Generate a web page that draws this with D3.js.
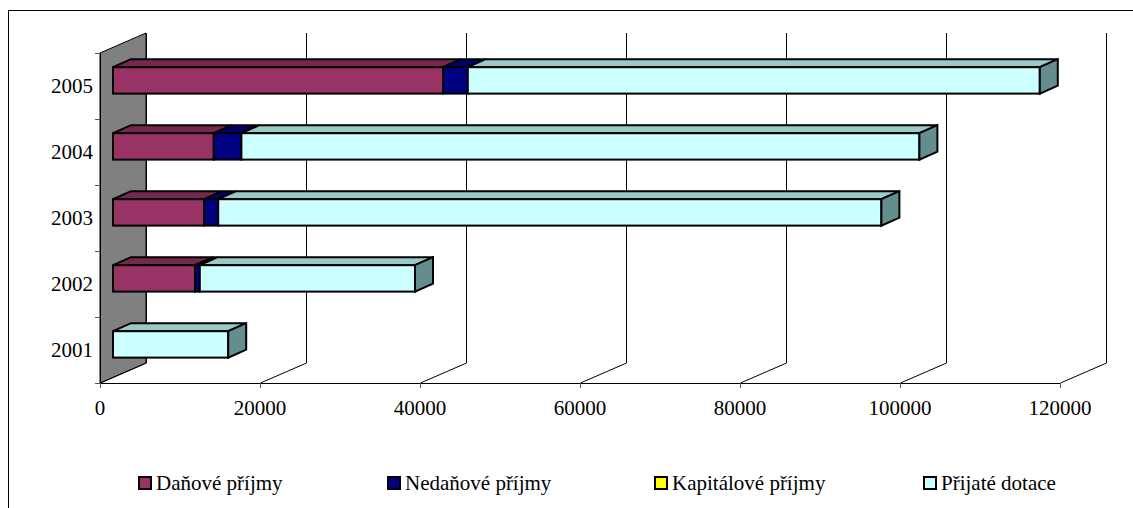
<!DOCTYPE html>
<html>
<head>
<meta charset="utf-8">
<script src="https://cdn.jsdelivr.net/npm/d3@7"></script>
<style>
  html, body { margin: 0; padding: 0; background: #fff; }
  svg { display: block; }
</style>
</head>
<body>
<svg id="chart" width="1133" height="508" font-family="'Liberation Serif', 'Times New Roman', 'DejaVu Serif', serif"></svg>
<script>
// Příjmy obce podle druhu (tis. Kč)
const years = ["2001", "2002", "2003", "2004", "2005"];
const seriesNames = ["Daňové příjmy", "Nedaňové příjmy", "Kapitálové příjmy", "Přijaté dotace"];
const danove     = [0, 10250, 11400, 12600, 41250];
const nedanove   = [0, 600, 1750, 3450, 3100];
const kapitalove = [0, 0, 0, 0, 0];
const dotace     = [14400, 26900, 82900, 84750, 71500];
const xTicks = [0, 20000, 40000, 60000, 80000, 100000, 120000];

const fronts = ["#993366", "#000080", "#FFFF00", "#CCFFFF"];
const tops   = ["#772850", "#000066", "#CCCC00", "#99C9C9"];
const sides  = ["#662244", "#000055", "#999900", "#648E8E"];

const svg = d3.select("#chart");

// Plot geometry: front plane and depth vector of the 3D box
const x = d3.scaleLinear().domain([0, 120000]).range([100, 1060]);
const y = d3.scaleBand().domain(years.slice().reverse()).range([53, 383])
  .paddingInner(0.6).paddingOuter(0.3);
const depth = { dx: 46, dy: -20 };
const barFront = { dx: 13, dy: -5.6 };   // bar front face offset in depth
const barDepth = { dx: 18, dy: -8 };     // bar thickness in depth
const floorY = 383, topY = 53;

// Outer frame
svg.append("rect").attr("x", 8.5).attr("y", 10.5).attr("width", 1200).attr("height", 600)
  .attr("fill", "none").attr("stroke", "#000").attr("stroke-width", 1);

// Side wall
const x0 = x(0);
svg.append("path")
  .attr("d", `M${x0},${floorY} L${x0 + depth.dx},${floorY + depth.dy} L${x0 + depth.dx},${topY + depth.dy} L${x0},${topY} Z`)
  .attr("fill", "#808080").attr("stroke", "#000").attr("stroke-width", 1);

// Gridlines on back wall and floor
const grid = svg.append("g").attr("stroke", "#000").attr("stroke-width", 1).attr("fill", "none");
xTicks.forEach(v => {
  const px = Math.round(x(v)) + 0.5;
  grid.append("path").attr("d",
    `M${px},${floorY} L${px + depth.dx},${floorY + depth.dy} L${px + depth.dx},${topY + depth.dy}`);
});

// Axis lines and ticks
svg.append("line").attr("x1", x0).attr("x2", x(120000)).attr("y1", floorY + 0.5).attr("y2", floorY + 0.5)
  .attr("stroke", "#000");
svg.append("line").attr("x1", x0 + 0.5).attr("x2", x0 + 0.5).attr("y1", topY).attr("y2", floorY)
  .attr("stroke", "#000");
xTicks.forEach(v => {
  svg.append("line").attr("x1", Math.round(x(v)) + 0.5).attr("x2", Math.round(x(v)) + 0.5)
    .attr("y1", floorY).attr("y2", floorY + 5).attr("stroke", "#555");
});
const yTickPos = [topY].concat(years.map((yr, i) => topY + (i + 1) * y.step()));
yTickPos.forEach(p => {
  svg.append("line").attr("x1", x0 - 5).attr("x2", x0).attr("y1", Math.round(p) + 0.5).attr("y2", Math.round(p) + 0.5)
    .attr("stroke", "#555");
});

// Tick labels
svg.append("g").selectAll("text").data(xTicks).join("text")
  .attr("x", d => x(d)).attr("y", 415).attr("text-anchor", "middle")
  .attr("font-size", 21).text(d => d);
svg.append("g").selectAll("text").data(years).join("text")
  .attr("x", 93).attr("y", d => y(d) + y.bandwidth() / 2 + 7).attr("text-anchor", "end")
  .attr("font-size", 21).text(d => d);

// Stacked 3D bars
const values = [danove, nedanove, kapitalove, dotace];
const barsG = svg.append("g").attr("stroke", "#000").attr("stroke-width", 2).attr("stroke-linejoin", "miter");
years.forEach((yr, i) => {
  const segs = [];
  let acc = 0;
  values.forEach((arr, s) => {
    const v = arr[i];
    if (v > 0) segs.push({ s, a: acc, b: acc + v });
    acc += v;
  });
  const fy0 = y(yr) + barFront.dy, fy1 = fy0 + y.bandwidth();
  segs.forEach((seg, k) => {
    const fx0 = x(seg.a) + barFront.dx, fx1 = x(seg.b) + barFront.dx;
    // top face
    barsG.append("path")
      .attr("d", `M${fx0},${fy0} L${fx0 + barDepth.dx},${fy0 + barDepth.dy} L${fx1 + barDepth.dx},${fy0 + barDepth.dy} L${fx1},${fy0} Z`)
      .attr("fill", tops[seg.s]);
    // front face
    barsG.append("rect").attr("x", fx0).attr("y", fy0).attr("width", fx1 - fx0).attr("height", fy1 - fy0)
      .attr("fill", fronts[seg.s]);
    // right side face on the outermost segment
    if (k === segs.length - 1) {
      barsG.append("path")
        .attr("d", `M${fx1},${fy0} L${fx1 + barDepth.dx},${fy0 + barDepth.dy} L${fx1 + barDepth.dx},${fy1 + barDepth.dy} L${fx1},${fy1} Z`)
        .attr("fill", sides[seg.s]);
    }
  });
});

// Legend
const legendX = [138, 387, 654, 923];
const legend = svg.append("g");
seriesNames.forEach((name, s) => {
  legend.append("rect").attr("x", legendX[s] + 1).attr("y", 477).attr("width", 12).attr("height", 12)
    .attr("fill", fronts[s]).attr("stroke", "#000").attr("stroke-width", 2);
  legend.append("text").attr("x", legendX[s] + 18).attr("y", 490).attr("font-size", 21).text(name);
});
</script>
</body>
</html>
